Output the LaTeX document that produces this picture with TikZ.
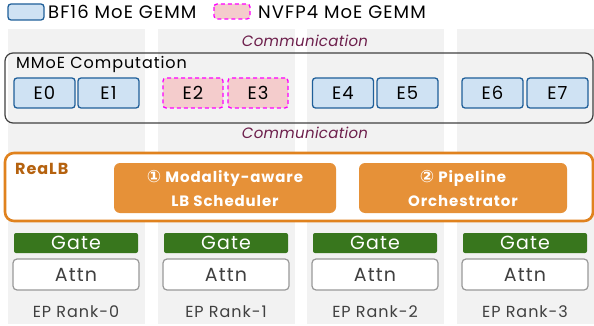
\documentclass[tikz,border=0pt]{standalone}
\usepackage{fontspec}
\setmainfont{Poppins}[LetterSpace=6]
\newfontfamily\commfont{Poppins}[LetterSpace=2]
\newfontfamily\symfont{DejaVu Sans}
\definecolor{colgray}{HTML}{F2F2F2}
\definecolor{bfill}{HTML}{CFE2F3}
\definecolor{bdraw}{HTML}{1F5F99}
\definecolor{pfill}{HTML}{F4CCCC}
\definecolor{pdraw}{HTML}{FF00FF}
\definecolor{commc}{HTML}{6D1F4C}
\definecolor{orng}{HTML}{E69138}
\definecolor{orngb}{HTML}{E0821E}
\definecolor{realbc}{HTML}{B5620F}
\definecolor{gatec}{HTML}{38761D}
\definecolor{txtc}{HTML}{404040}
\tikzset{
  bfbox/.style={draw=bdraw, fill=bfill, line width=1.3pt, rounded corners=3pt, minimum width=61pt, minimum height=30pt, inner sep=0pt, font=\fontsize{18}{18}\selectfont},
  nvbox/.style={draw=pdraw, fill=pfill, line width=1.3pt, dash pattern=on 4pt off 3pt, rounded corners=3pt, minimum width=60pt, minimum height=30pt, inner sep=0pt, font=\fontsize{18}{18}\selectfont},
  commtxt/.style={text=commc, font=\commfont\fontsize{15}{15}\selectfont\itshape},
  obox/.style={fill=orng, rounded corners=6pt, text=white, align=center, inner sep=0pt, font=\fontsize{15}{24}\selectfont\bfseries},
  gatebox/.style={fill=gatec, rounded corners=2pt, minimum width=124pt, minimum height=20pt, inner sep=0pt, text=white, font=\fontsize{19}{19}\selectfont},
  attnbox/.style={draw=gray!80, fill=white, line width=1.2pt, rounded corners=4pt, minimum width=126pt, minimum height=31pt, inner sep=0pt, text=txtc, font=\fontsize{19}{19}\selectfont},
  ranktxt/.style={text=txtc, font=\fontsize{16}{16}\selectfont},
  legtxt/.style={anchor=west, inner sep=0pt, font=\fontsize{18}{18}\selectfont}
}
\newcommand{\circnum}[1]{{\symfont\fontsize{17}{17}\selectfont\char"#1}}
\begin{document}
\begin{tikzpicture}[x=1pt,y=-1pt]
\useasboundingbox (0,0) rectangle (594,326);
% columns
\foreach \cx in {8,158,307,457} {
  \fill[colgray] (\cx,29) rectangle ++(137,295);
}
% legend
\draw[draw=bdraw, fill=bfill, line width=1.3pt, rounded corners=3pt] (8,4) rectangle (44,20);
\node[legtxt] (legbf) at (48,12) {BF16 MoE GEMM};
\draw[draw=pdraw, fill=pfill, line width=1.3pt, dash pattern=on 4pt off 3pt, rounded corners=3pt] (214,4) rectangle (250,19);
\node[legtxt] (legnv) at (258,12) {NVFP4 MoE GEMM};
% communication 1
\node[commtxt] (comm1) at (305,41) {Communication};
% MMoE box
\draw[draw=txtc, line width=1.2pt, rounded corners=8pt] (5,53) rectangle (593,123);
\node[anchor=west, inner sep=0pt, font=\fontsize{16}{16}\selectfont] (mmoe) at (16,64) {MMoE Computation};
% experts
\node[bfbox] (e0) at (44.5,93) {E0};
\node[bfbox] (e1) at (108.5,93) {E1};
\node[nvbox] (e2) at (193,93) {E2};
\node[nvbox] (e3) at (258,93) {E3};
\node[bfbox] (e4) at (343,93) {E4};
\node[bfbox] (e5) at (407.5,93) {E5};
\node[bfbox] (e6) at (492.5,93) {E6};
\node[bfbox] (e7) at (557.5,93) {E7};
% communication 2
\node[commtxt] (comm2) at (305,133) {Communication};
% RealB
\draw[draw=orngb, fill=white, line width=2.6pt, rounded corners=9pt] (5,153) rectangle (593,221);
\node[anchor=west, inner sep=0pt, text=realbc, font=\fontsize{16}{16}\selectfont\bfseries] (realb) at (15,169) {ReaLB};
\node[obox, minimum width=222pt, minimum height=50pt] (sched) at (225,188) {\circnum{2460} Modality-aware\\LB Scheduler};
\node[obox, minimum width=208pt, minimum height=50pt] (orch) at (463,188) {\circnum{2461} Pipeline\\Orchestrator};
% ranks
\foreach \cx [count=\i from 0] in {8,158,307,457} {
  \node[gatebox] (gate\i) at (\cx+68,243) {\raisebox{-1.5pt}{Gate}};
  \node[attnbox] (attn\i) at (\cx+68,274.5) {Attn};
  \node[ranktxt] (rank\i) at (\cx+68,312) {EP Rank-\i};
}
\end{tikzpicture}
\end{document}
